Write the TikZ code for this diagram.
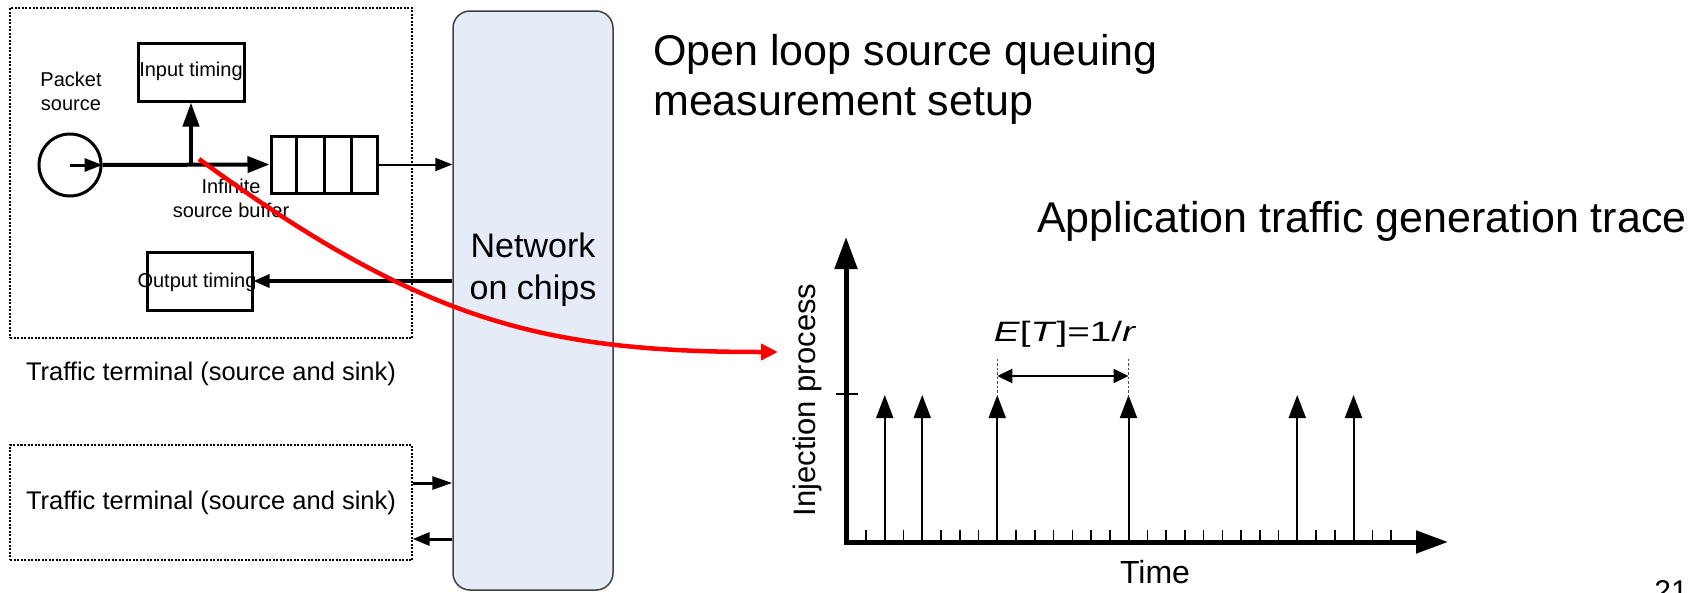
\documentclass[tikz,border=0pt]{standalone}
\usepackage{fontspec}
\usepackage{graphicx}
\setmainfont{Liberation Sans}
\usetikzlibrary{arrows.meta,calc}
\definecolor{nocfill}{HTML}{E6ECF7}
\definecolor{nocline}{HTML}{404040}
\definecolor{hilite}{HTML}{FF0000}
\newcommand\fsz[2]{\fontsize{#1}{#2}\selectfont}

\begin{document}
\begin{tikzpicture}[x=1pt,y=-1pt,
  terminal/.style={draw, dash pattern=on 2pt off 1.5pt, line width=1.3pt, inner sep=0pt},
  block/.style={draw, line width=3pt, inner sep=0pt},
  noc/.style={draw=nocline, fill=nocfill, line width=1.5pt, rounded corners=17pt,
    minimum width=160pt, minimum height=579pt, inner sep=0pt},
  lbl/.style={inner sep=0pt, font=\fsz{20}{24}, align=center},
  bigtext/.style={inner sep=0pt, font=\fsz{43}{50}},
  termtext/.style={inner sep=0pt, font=\fsz{25.5}{30}, anchor=base},
  axis/.style={line width=5pt, line join=miter},
  tick/.style={line width=1.5pt},
  spike/.style={line width=2pt, -{Triangle[length=23pt,width=17pt]}},
]
\fill[white] (0,0) rectangle (1695,592);
\useasboundingbox (0,0) rectangle (1695,592);

% ---- traffic terminals and network ----
\node[terminal, minimum width=402pt, minimum height=330pt] (term1) at (211,173) {};
\node[terminal, minimum width=402pt, minimum height=115pt] (term2) at (211,502.5) {};
\node[noc] (noc) at (533,300.5) {};
\node[inner sep=0pt, font=\fsz{34}{42}, align=center] (noclbl) at (533,270) {Network\\on chips};

\node[termtext] (term1lbl) at (211,380) {Traffic terminal (source and sink)};
\node[termtext] (term2lbl) at (211,509) {Traffic terminal (source and sink)};

% ---- inside the first terminal ----
\node[lbl] (srclbl) at (71,91) {Packet\\source};
\node[draw, circle, line width=3pt, minimum size=62pt, inner sep=0pt] (src) at (70,165) {};
\node[block, minimum width=106pt, minimum height=58pt] (itm) at (191,72) {};
\node[lbl] (itmtxt) at (191,71) {Input timing};
\node[block, minimum width=105pt, minimum height=58pt] (otm) at (199.5,281) {};
\node[lbl] (otmtxt) at (197,282) {Output timing};
\node[block, minimum width=106pt, minimum height=57pt] (queue) at (324,164.5) {};
\foreach \f in {0.25,0.5,0.75}
  \draw[line width=3pt] ($(queue.north west)!\f!(queue.north east)$) -- ($(queue.south west)!\f!(queue.south east)$);
\node[lbl] (buflbl) at (231,198) {Infinite\\source buffer};

\draw[line width=3pt, -{Triangle[length=18pt,width=13pt]}] (src.center) -- (src.east);
\draw[line width=4pt, -{Triangle[length=22pt,width=16pt]}] (src.east) -- (queue.west);
\draw[line width=4pt, -{Triangle[length=24pt,width=16pt]}] (itm.south |- src.center) -- (itm.south);
\draw[line width=2pt, -{Triangle[length=17pt,width=13pt]}] (queue.east) -- (queue.east -| noc.west);
\draw[line width=3.5pt, -{Triangle[length=16pt,width=13pt]}] (otm.east -| noc.west) -- (otm.east);

% ---- second terminal links ----
\coordinate (rowin) at (0,483);
\coordinate (rowout) at (0,539);
\draw[line width=3pt, -{Triangle[length=20pt,width=13pt]}] (term2.east |- rowin) -- (noc.west |- rowin);
\draw[line width=3pt, -{Triangle[length=17pt,width=13pt]}] (noc.west |- rowout) -- (term2.east |- rowout);

% ---- titles ----
\node[bigtext, align=left, anchor=north west] (title) at (653,34) {Open loop source queuing\\measurement setup};
\node[bigtext, anchor=base west] (trace) at (1037,232) {Application traffic generation trace};

% ---- injection process plot ----
\draw[axis, {Triangle[length=32pt,width=22pt]}-{Triangle[length=32pt,width=22pt]}]
  (846,237) -- (846,542) -- (1448,542);
\draw[tick] (836,394) -- (858,394);
\foreach \k in {0,...,28}
  \draw[tick] ({866+18.75*\k},542) -- ++(0,-12);
\foreach \k in {1,3,7,14,23,26}
  \draw[spike] ({866+18.75*\k},542) -- ({866+18.75*\k},395);
\foreach \k in {7,14}
  \draw[line width=1.5pt, dash pattern=on 2.5pt off 2pt, black!70] ({866+18.75*\k},397) -- ({866+18.75*\k},358);
\draw[line width=2pt, {Triangle[length=15pt,width=14pt]}-{Triangle[length=15pt,width=14pt]}]
  ({866+18.75*7},376) -- ({866+18.75*14},376);
\node[inner sep=0pt, font=\fsz{28}{32}, anchor=base] (mean) at (1065,341)
  {\scalebox{1.38}[1]{\textit{E}[\textit{T}]=1/\textit{r}}};
\node[inner sep=0pt, font=\fsz{31}{36}, rotate=90, anchor=base] (inj) at (815,400) {Injection process};
\node[inner sep=0pt, font=\fsz{32}{36}, anchor=base] (time) at (1155,583) {Time};

\node[inner sep=0pt, font=\fsz{30}{36}, anchor=base east] (pgno) at (1688,601) {21};

% ---- highlight link from source to trace ----
\coordinate (rs) at (199,159);
\coordinate (re) at (778,352);
\draw[hilite, line width=4.5pt, -{Triangle[length=17pt,width=16pt]}]
  (rs) .. controls (420,320) and (540,352) .. (re);
\end{tikzpicture}
\end{document}
